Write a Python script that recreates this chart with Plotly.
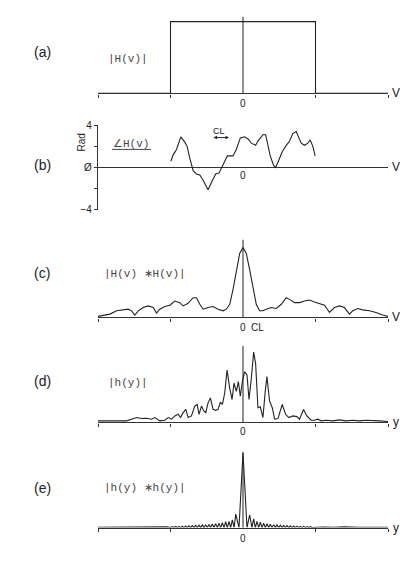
import plotly.graph_objects as go

# ---------------- data ----------------
# (a) |H(v)| : rectangular pupil, 1 inside |v|<1
A_X = [-2, -1, -1, 1, 1, 2]
A_Y = [0, 0, 1, 1, 0, 0]

# (b) phase of H(v) in radians
B_X = [-0.995, -0.963, -0.917, -0.858, -0.803, -0.771, -0.734, -0.688, -0.642, -0.596,
       -0.550, -0.482, -0.436, -0.376, -0.330, -0.298, -0.252, -0.216, -0.183, -0.138,
       -0.092, -0.037, 0.023, 0.069, 0.115, 0.174, 0.206, 0.275, 0.312, 0.344,
       0.376, 0.422, 0.450, 0.482, 0.541, 0.587, 0.642, 0.688, 0.734, 0.771,
       0.803, 0.849, 0.894, 0.927, 0.963, 0.995]
B_Y = [0.6, 1.2, 1.7, 2.9, 2.4, 2.0, 0.9, -0.3, -0.6, -0.7,
       -1.2, -2.1, -1.4, -0.6, -0.5, 0.0, 0.6, 1.1, 1.1, 1.1,
       1.7, 2.8, 2.9, 2.7, 2.3, 2.1, 2.5, 3.1, 3.1, 2.2,
       1.1, 0.2, 0.0, 0.5, 1.5, 2.0, 2.5, 3.2, 3.4, 2.8,
       2.3, 2.1, 2.3, 2.6, 2.0, 1.1]

# (c) |H(v) * H(v)|
C_X = [-2.0, -1.927, -1.835, -1.743, -1.651, -1.583, -1.537, -1.491, -1.445, -1.376,
       -1.307, -1.239, -1.193, -1.147, -1.078, -1.009, -0.940, -0.872, -0.826, -0.757,
       -0.688, -0.642, -0.596, -0.550, -0.482, -0.413, -0.344, -0.275, -0.229, -0.183,
       -0.138, -0.092, -0.046, 0.0, 0.046, 0.092, 0.138, 0.183, 0.229, 0.275,
       0.321, 0.390, 0.459, 0.528, 0.596, 0.642, 0.711, 0.780, 0.849, 0.917,
       0.986, 1.055, 1.124, 1.193, 1.261, 1.330, 1.399, 1.468, 1.514, 1.583,
       1.651, 1.743, 1.835, 1.927, 2.0]
C_Y = [3, 7, 10, 20, 23, 25, 20, 7, 20, 30,
       35, 30, 13, 25, 33, 37, 50, 45, 35, 43,
       60, 60, 40, 25, 30, 33, 25, 20, 25, 40,
       85, 145, 195, 213, 195, 145, 85, 40, 20, 20,
       25, 30, 27, 40, 60, 55, 45, 45, 50, 53,
       47, 43, 37, 15, 30, 35, 30, 10, 20, 27,
       23, 20, 15, 7, 3]

# (d) |h(y)|
D_X = [-2.0, -1.881, -1.743, -1.606, -1.537, -1.468, -1.399, -1.330, -1.261, -1.216,
       -1.147, -1.078, -1.032, -0.986, -0.940, -0.894, -0.862, -0.826, -0.789, -0.757,
       -0.711, -0.665, -0.633, -0.606, -0.573, -0.541, -0.514, -0.482, -0.450, -0.413,
       -0.376, -0.344, -0.312, -0.284, -0.252, -0.220, -0.183, -0.151, -0.124, -0.092,
       -0.064, -0.037, -0.009, 0.023, 0.055, 0.083, 0.115, 0.147, 0.174, 0.206,
       0.239, 0.275, 0.307, 0.330, 0.367, 0.404, 0.436, 0.482, 0.541, 0.587,
       0.633, 0.688, 0.743, 0.780, 0.835, 0.881, 0.940, 0.986, 1.032, 1.078,
       1.147, 1.239, 1.330, 1.422, 1.514, 1.606, 1.697, 1.789, 1.881, 2.0]
D_Y = [5, 5, 5, 5, 10, 15, 12, 13, 10, 15,
       5, 7, 15, 10, 20, 25, 15, 30, 40, 15,
       20, 50, 55, 25, 50, 35, 30, 60, 75, 40,
       37, 40, 62, 55, 90, 160, 105, 70, 120, 95,
       125, 80, 125, 155, 145, 70, 135, 215, 180, 45,
       48, 15, 95, 140, 65, 45, 10, 12, 55, 25,
       15, 20, 18, 10, 40, 20, 7, 7, 10, 5,
       7, 5, 8, 5, 7, 5, 7, 5, 5, 3]

# (e) |h(y) * h(y)|
E_X = [-2.0, -1.8, -1.6, -1.4, -1.2, -1.05,
       -0.998, -0.975, -0.952, -0.929, -0.906, -0.883, -0.86, -0.837, -0.814, -0.791,
       -0.768, -0.745, -0.722, -0.699, -0.676, -0.653, -0.63, -0.607, -0.584, -0.561,
       -0.538, -0.515, -0.492, -0.469, -0.446, -0.423, -0.40, -0.377, -0.354, -0.331,
       -0.308, -0.285, -0.262, -0.239, -0.216, -0.193, -0.17, -0.147, -0.123, -0.10,
       -0.055, 0.0, 0.055,
       0.092, 0.123, 0.147, 0.17, 0.193, 0.216, 0.239, 0.262, 0.285, 0.308,
       0.331, 0.354, 0.377, 0.40, 0.423, 0.446, 0.469, 0.492, 0.515, 0.538,
       0.561, 0.584, 0.607, 0.63, 0.653, 0.676, 0.699, 0.722, 0.745, 0.768,
       0.791, 0.814, 0.837, 0.86, 0.883, 0.906, 0.929, 0.952,
       1.1, 1.25, 1.4, 1.6, 1.8, 2.0]
E_Y = [0.3, 0.5, 0.3, 0.6, 0.4, 0.7,
       0, 1.0, 0, 1.1, 0, 1.2, 0, 1.4, 0, 1.6,
       0, 1.8, 0, 2.0, 0, 2.2, 0, 2.5, 0, 2.8,
       0, 3.0, 0, 3.3, 0, 3.6, 0, 4.0, 0, 4.5,
       0, 5.0, 0, 6.0, 0, 6.5, 0, 8.0, 0, 14.0,
       0, 77, 0,
       13, 0, 9, 0, 6.5, 0, 5.5, 0, 4.5, 0,
       4.0, 0, 3.5, 0, 3.0, 0, 2.8, 0, 2.5, 0,
       2.3, 0, 2.0, 0, 1.8, 0, 1.6, 0, 1.5, 0,
       1.3, 0, 1.2, 0, 1.0, 0, 0.9, 0,
       0.6, 0.3, 0.7, 0.4, 0.6, 0.3]

X_TICKS = [-2, -1, 1, 2]
B_TICKVALS = [-4, -2, 0, 2, 4]
B_TICKTEXT = ["\u22124", "", "\u00d8", "", "4"]
PANEL_LETTERS = ["(a)", "(b)", "(c)", "(d)", "(e)"]
PANEL_NAMES = ["|H(v)|", "\u2220H(v)", "|H(v) \u2217H(v)|", "|h(y)|", "|h(y) \u2217h(y)|"]
AXIS_NAMES = ["V", "V", "V", "y", "y"]

# ---------------- layout helpers ----------------
W, H = 406, 565
def fx(px):
    return px / W
def fy(px):
    return 1 - px / H

INK = "#222222"
AXC = "#333333"
SANS = "Liberation Sans"
MONO = "Liberation Mono"

XDOM = [fx(98), fx(388)]
# (bottom px, top px, y range)
PANELS = [
    (90, 12, [0, 1.068]),
    (209, 122, [-4.03, 4.03]),
    (318, 239, [0, 237]),
    (425, 347, [0, 234]),
    (532, 455, [0, 78]),
]

fig = go.Figure()
series = [(A_X, A_Y), (B_X, B_Y), (C_X, C_Y), (D_X, D_Y), (E_X, E_Y)]
for i, (xs, ys) in enumerate(series):
    n = "" if i == 0 else str(i + 1)
    fig.add_trace(go.Scatter(x=xs, y=ys, mode="lines", xaxis="x" + n, yaxis="y" + n,
                             line=dict(color=INK, width=1.1), showlegend=False,
                             hoverinfo="skip"))

layout = dict(width=W, height=H, margin=dict(l=0, r=0, t=0, b=0),
              paper_bgcolor="white", plot_bgcolor="rgba(0,0,0,0)", showlegend=False)

shapes = []
annotations = []
for i, (bot, top, rng) in enumerate(PANELS):
    n = "" if i == 0 else str(i + 1)
    xa = dict(domain=XDOM, range=[-2, 2], anchor="y" + n, showgrid=False, zeroline=False,
              fixedrange=True)
    ya = dict(domain=[fy(bot), fy(top)], range=rng, anchor="x" + n, showgrid=False,
              fixedrange=True)
    if i == 1:
        xa.update(visible=False)
        ya.update(showline=True, linecolor=AXC, linewidth=1.2, ticks="outside", ticklen=3,
                  tickcolor=AXC, tickvals=B_TICKVALS, ticktext=B_TICKTEXT,
                  tickfont=dict(family=SANS, size=10, color=INK),
                  zeroline=True, zerolinecolor=AXC, zerolinewidth=1.4)
    else:
        xa.update(showline=True, linecolor=AXC, linewidth=1.4, ticks="outside", ticklen=3,
                  tickcolor=AXC, tickvals=X_TICKS, showticklabels=False)
        ya.update(visible=False)
        shapes.append(dict(type="line", xref="x" + n, yref="y%s domain" % n,
                           x0=0, x1=0, y0=0, y1=1, line=dict(color=INK, width=1)))
    layout["xaxis" + n] = xa
    layout["yaxis" + n] = ya

# panel letters
letter_y = [48, 163, 273, 383, 492]
name_pos = [(128, 55), (131, 141), (145, 274), (128, 385), (145, 492)]
axis_y = [90, 165, 318, 425, 532]
zero_y = [100, 174, 328, 434, 543]
for i in range(5):
    annotations.append(dict(text=PANEL_LETTERS[i], x=fx(42), y=fy(letter_y[i]), xref="paper",
                            yref="paper", showarrow=False, xanchor="center", yanchor="middle",
                            font=dict(family=SANS, size=14, color=INK)))
    annotations.append(dict(text=PANEL_NAMES[i], x=fx(name_pos[i][0]), y=fy(name_pos[i][1]),
                            xref="paper", yref="paper", showarrow=False, xanchor="center",
                            yanchor="middle", font=dict(family=MONO, size=11, color="#444444")))
    annotations.append(dict(text=AXIS_NAMES[i], x=fx(396), y=fy(axis_y[i]), xref="paper",
                            yref="paper", showarrow=False, xanchor="center", yanchor="middle",
                            font=dict(family=SANS, size=12, color=INK)))
    annotations.append(dict(text="0", x=fx(243), y=fy(zero_y[i]), xref="paper", yref="paper",
                            showarrow=False, xanchor="center", yanchor="middle",
                            font=dict(family=SANS, size=10, color=INK)))

# underline of the phase label
shapes.append(dict(type="line", xref="paper", yref="paper", x0=fx(112), x1=fx(151),
                   y0=fy(147), y1=fy(147), line=dict(color="#444444", width=1)))

# Rad label
annotations.append(dict(text="Rad", x=fx(82), y=fy(140), xref="paper", yref="paper",
                        showarrow=False, textangle=-90, xanchor="center", yanchor="middle",
                        font=dict(family=SANS, size=10, color=INK)))
# CL with double arrow in (b)
annotations.append(dict(text="CL", x=fx(219), y=fy(128), xref="paper", yref="paper",
                        showarrow=False, xanchor="center", yanchor="middle",
                        font=dict(family=SANS, size=9, color=INK)))
annotations.append(dict(text="", x=fx(229), y=fy(135), ax=-17, ay=0,
                        xref="paper", yref="paper", axref="pixel", ayref="pixel",
                        showarrow=True, arrowside="end+start", arrowhead=2, arrowsize=0.7,
                        arrowwidth=1, arrowcolor=INK))
# CL in (c)
annotations.append(dict(text="CL", x=fx(257), y=fy(328), xref="paper", yref="paper",
                        showarrow=False, xanchor="center", yanchor="middle",
                        font=dict(family=SANS, size=10, color=INK)))

layout["shapes"] = shapes
layout["annotations"] = annotations
fig.update_layout(**layout)
fig.write_html("out.html")
